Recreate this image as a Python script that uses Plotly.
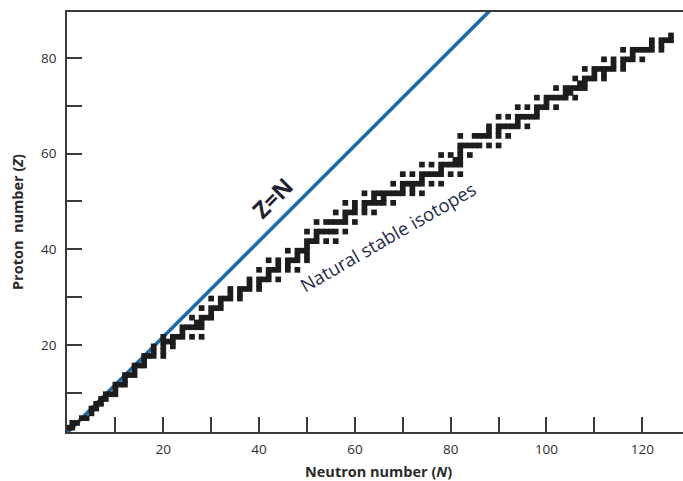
import plotly.graph_objects as go

# Stable isotopes: proton number Z and the neutron numbers N of its stable isotopes
proton_numbers = [1, 2, 3, 4, 5, 6, 7, 8, 9, 10, 11, 12, 13, 14, 15, 16, 17, 18, 19, 20,
                  21, 22, 23, 24, 25, 26, 27, 28, 29, 30, 31, 32, 33, 34, 35, 36, 37, 38, 39, 40,
                  41, 42, 44, 45, 46, 47, 48, 49, 50, 51, 52, 53, 54, 55, 56, 57, 58, 59, 60,
                  62, 63, 64, 65, 66, 67, 68, 69, 70, 71, 72, 73, 74, 75, 76, 77, 78, 79, 80,
                  81, 82, 83]
neutron_lists = [
    [0, 1], [1, 2], [3, 4], [5], [5, 6], [6, 7], [7, 8], [8, 9, 10], [10], [10, 11, 12],
    [12], [12, 13, 14], [14], [14, 15, 16], [16], [16, 17, 18, 20], [18, 20], [18, 20, 22],
    [20, 21, 22], [20, 22, 23, 24, 26, 28],
    [24], [24, 25, 26, 27, 28], [27, 28], [26, 28, 29, 30], [30], [28, 30, 31, 32], [32],
    [30, 32, 33, 34, 36], [34, 36], [34, 36, 37, 38, 40], [38, 40], [38, 40, 41, 42, 44],
    [42], [40, 42, 43, 44, 46, 48], [44, 46], [42, 44, 46, 47, 48, 50], [48, 50],
    [46, 48, 49, 50], [50], [50, 51, 52, 54, 56],
    [52], [50, 52, 53, 54, 55, 56, 58], [52, 54, 55, 56, 57, 58, 60], [58],
    [56, 58, 59, 60, 62, 64], [60, 62], [58, 60, 62, 63, 64, 65, 66, 68], [64, 66],
    [62, 64, 65, 66, 67, 68, 69, 70, 72, 74], [70, 72], [68, 70, 71, 72, 73, 74, 76, 78],
    [74], [70, 72, 74, 75, 76, 77, 78, 80, 82], [78], [74, 76, 78, 79, 80, 81, 82],
    [81, 82], [78, 80, 82, 84], [82], [82, 83, 84, 85, 86, 88, 90],
    [82, 85, 86, 87, 88, 90, 92], [88, 90], [88, 90, 91, 92, 93, 94, 96], [94],
    [90, 92, 94, 95, 96, 97, 98], [98], [94, 96, 98, 99, 100, 102], [100],
    [98, 100, 101, 102, 103, 104, 106], [104, 105], [102, 104, 105, 106, 107, 108],
    [107, 108], [106, 108, 109, 110, 112], [110, 112], [108, 110, 111, 112, 113, 114, 116],
    [114, 116], [112, 114, 116, 117, 118, 120], [118], [116, 118, 119, 120, 121, 122, 124],
    [122, 124], [122, 124, 125, 126], [126],
]

# Z = N reference line
zn_line_N = [0, 95]
zn_line_Z = [0, 95]

x_ticks = [20, 40, 60, 80, 100, 120]
x_minor = [10, 30, 50, 70, 90, 110]
y_ticks = [20, 40, 60, 80]
y_minor = [10, 30, 50, 70]

# the printed scale of the original figure sits slightly below the data grid
Y_SCALE_OFFSET = 1.7

iso_N, iso_Z = [], []
for z, ns in zip(proton_numbers, neutron_lists):
    for n in ns:
        iso_N.append(n)
        iso_Z.append(z)

fig = go.Figure()
fig.add_trace(go.Scatter(
    x=zn_line_N, y=zn_line_Z, mode="lines",
    line=dict(color="#1b6aa8", width=3.6), hoverinfo="skip", showlegend=False))
fig.add_trace(go.Scatter(
    x=iso_N, y=iso_Z, mode="markers",
    marker=dict(symbol="square", size=5.7, color="#1e1c1c", line=dict(width=0)),
    showlegend=False))

xt = sorted(x_ticks + x_minor)
yt = sorted(y_ticks + y_minor)
axis_color = "#3a3a3a"
fig.update_xaxes(
    range=[-0.1, 128.5], showgrid=False, zeroline=False,
    showline=True, linecolor=axis_color, linewidth=1.5, mirror=True,
    ticks="inside", ticklen=15, tickwidth=1.5, tickcolor=axis_color,
    tickvals=xt, ticktext=[str(v) if v in x_ticks else "" for v in xt],
    ticklabelstandoff=4,
    tickfont=dict(family="Open Sans", size=13.5, color="#2e2e2e"))
fig.update_yaxes(
    range=[1.8 - Y_SCALE_OFFSET, 89.6 - Y_SCALE_OFFSET], showgrid=False, zeroline=False,
    showline=True, linecolor=axis_color, linewidth=1.5, mirror=False,
    ticks="inside", ticklen=15, tickwidth=1.5, tickcolor=axis_color,
    tickvals=[v - Y_SCALE_OFFSET for v in yt],
    ticktext=[str(v) if v in y_ticks else "" for v in yt],
    ticklabelstandoff=6,
    tickfont=dict(family="Open Sans", size=13.5, color="#2e2e2e"))

fig.add_annotation(
    text="<b>Neutron number (<i>N</i>)</b>", xref="paper", yref="paper",
    x=0.5, y=0, yshift=-39, xshift=3, xanchor="center", yanchor="middle", showarrow=False,
    font=dict(family="Open Sans", size=14.5, color="#2a2a2a"))
fig.add_annotation(
    text="<b>Proton  number (<i>Z</i>)</b>", xref="paper", yref="paper",
    x=0, y=0.5, xshift=-50, xanchor="center", yanchor="middle",
    textangle=-90, showarrow=False,
    font=dict(family="Open Sans", size=14.5, color="#2a2a2a"))
fig.add_annotation(
    text="<b>Z=N</b>", x=42.7, y=49.0, xref="x", yref="y", textangle=-45, showarrow=False,
    font=dict(family="Open Sans", size=23, color="#1d2030"))
fig.add_annotation(
    text="Natural stable isotopes", x=66.9, y=41.0, xref="x", yref="y",
    textangle=-30, showarrow=False,
    font=dict(family="Open Sans", size=18.5, color="#1f2d4d"))

fig.update_layout(
    width=683, height=481, margin=dict(l=67, r=0, t=12, b=49),
    paper_bgcolor="white", plot_bgcolor="white")

fig.write_html("out.html")
